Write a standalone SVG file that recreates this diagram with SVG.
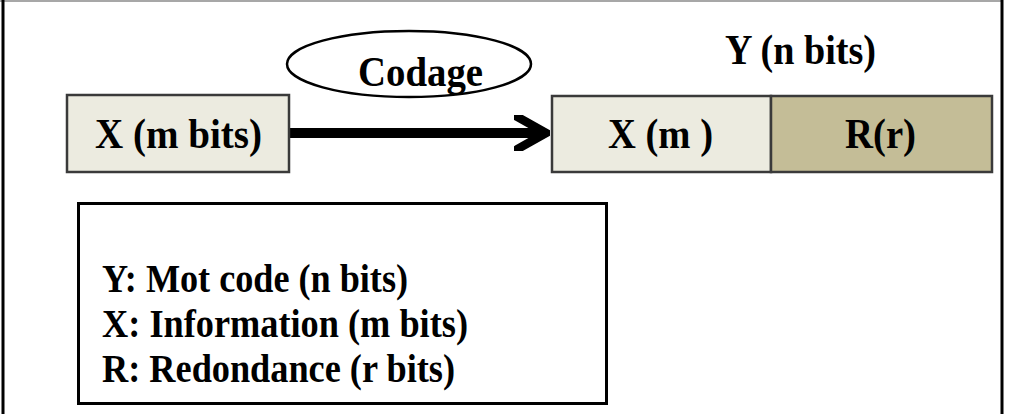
<svg xmlns="http://www.w3.org/2000/svg" width="1011" height="414" viewBox="0 0 1011 414">
  <style>
    .t { font-family: "Liberation Serif", "Times New Roman", serif; font-weight: bold; fill: #000; }
    .big { font-size: 42px; }
    .leg { font-size: 40px; }
    .box { stroke: #3a3a3a; stroke-width: 2.5; }
    .light { fill: #ecebe0; }
    .dark { fill: #c4bd97; }
  </style>
  <defs>
    <marker id="chev" viewBox="0 0 10 10" refX="9" refY="5" markerWidth="3.6" markerHeight="3.6" markerUnits="strokeWidth" orient="auto">
      <polyline points="1,0.5 9,5 1,9.5" fill="none" stroke="#000" stroke-width="2.4" stroke-linecap="round" stroke-linejoin="miter"/>
    </marker>
  </defs>
  <rect width="1011" height="414" fill="#fff"/>
  <g id="frame">
    <line x1="0" y1="1" x2="1003" y2="1" stroke="#8a8a8a" stroke-width="1.5"/>
    <line x1="3" y1="0" x2="3" y2="414" stroke="#000" stroke-width="3"/>
    <line x1="1002" y1="0" x2="1002" y2="414" stroke="#000" stroke-width="3"/>
  </g>
  <g id="connectors">
    <line x1="290" y1="133" x2="546" y2="133" stroke="#000" stroke-width="10" marker-end="url(#chev)"/>
  </g>
  <g id="codage">
    <ellipse cx="409" cy="64" rx="122" ry="33" fill="none" stroke="#000" stroke-width="2.5"/>
    <text class="t big" x="358" y="86" textLength="125" lengthAdjust="spacingAndGlyphs">Codage</text>
  </g>
  <g id="x-input">
    <rect class="box light" x="67" y="95" width="222" height="77"/>
    <text class="t big" x="95" y="148" textLength="167" lengthAdjust="spacingAndGlyphs">X (m bits)</text>
  </g>
  <g id="y-label">
    <text class="t big" x="725" y="64" textLength="151" lengthAdjust="spacingAndGlyphs">Y (n bits)</text>
  </g>
  <g id="y-x">
    <rect class="box light" x="552" y="96" width="219" height="76"/>
    <text class="t big" x="608" y="148" textLength="105" lengthAdjust="spacingAndGlyphs">X (m )</text>
  </g>
  <g id="y-r">
    <rect class="box dark" x="771" y="96" width="221" height="76"/>
    <text class="t big" x="845" y="148" textLength="71" lengthAdjust="spacingAndGlyphs">R(r)</text>
  </g>
  <g id="legend">
    <rect x="78.5" y="203.5" width="528" height="200" fill="#fff" stroke="#000" stroke-width="3"/>
    <text class="t leg" x="102" y="292" textLength="306" lengthAdjust="spacingAndGlyphs">Y: Mot code (n bits)</text>
    <text class="t leg" x="102" y="337" textLength="366" lengthAdjust="spacingAndGlyphs">X: Information (m bits)</text>
    <text class="t leg" x="102" y="382" textLength="353" lengthAdjust="spacingAndGlyphs">R: Redondance (r bits)</text>
  </g>
</svg>
